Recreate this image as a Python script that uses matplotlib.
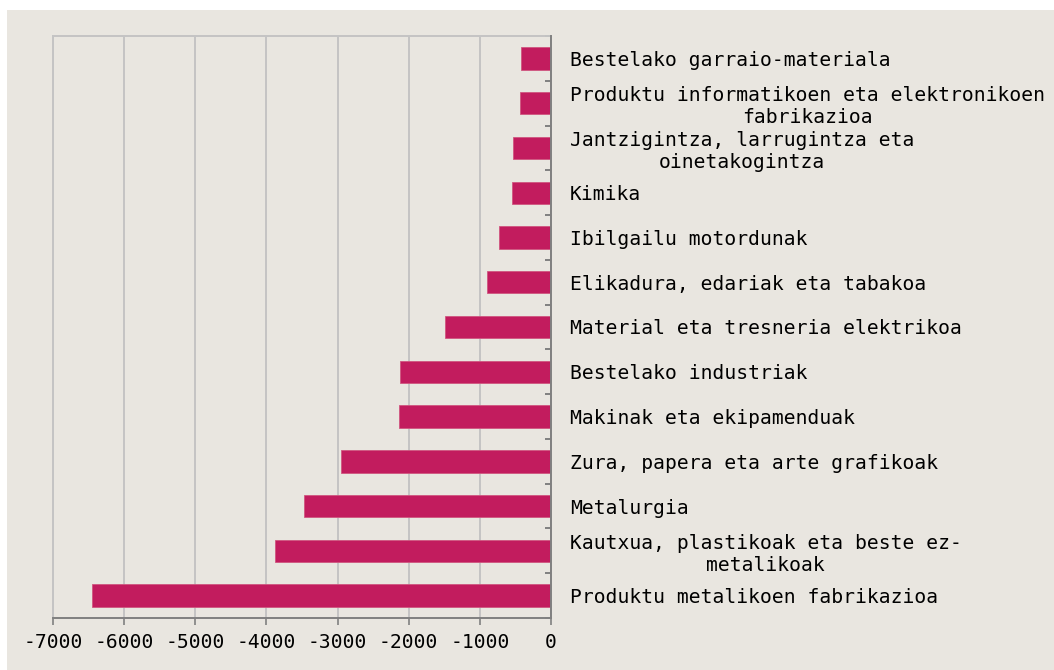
import matplotlib
matplotlib.use("Agg")
import matplotlib.pyplot as plt
from matplotlib.patches import Rectangle
import numpy as np

plt.rcParams['font.family'] = ['DejaVu Sans Mono', 'DejaVu Sans']
plt.rcParams['axes.unicode_minus'] = False

categories = [
    "Bestelako garraio-materiala",
    "Produktu informatikoen eta elektronikoen\nfabrikazioa",
    "Jantzigintza, larrugintza eta\noinetakogintza",
    "Kimika",
    "Ibilgailu motordunak",
    "Elikadura, edariak eta tabakoa",
    "Material eta tresneria elektrikoa",
    "Bestelako industriak",
    "Makinak eta ekipamenduak",
    "Zura, papera eta arte grafikoak",
    "Metalurgia",
    "Kautxua, plastikoak eta beste ez-\nmetalikoak",
    "Produktu metalikoen fabrikazioa",
]
values = [-425, -430, -535, -550, -730, -905, -1495, -2125, -2140, -2950, -3470, -3875, -6450]
xticks = [-7000, -6000, -5000, -4000, -3000, -2000, -1000, 0]

bg = "#E9E6E0"
bar_color = "#C21C5E"
fs = 14.1

fig = plt.figure(figsize=(10.54, 6.70), dpi=100, facecolor="white")
fig.patches.append(Rectangle((7/1054, 0), 1, 1 - 10/670, transform=fig.transFigure,
                             facecolor=bg, edgecolor="none", zorder=-10))
ax = fig.add_axes([53/1054, 1 - 618/670, (551-53)/1054, (618-36)/670])
ax.set_facecolor(bg)

n = len(categories)
y = np.arange(n)
ax.barh(y, values, height=0.5, color=bar_color, edgecolor="#D0567F", linewidth=0.6, zorder=3)

ax.set_xlim(-7000, 0)
ax.set_ylim(n - 0.5, -0.5)
ax.set_xticks(xticks)
ax.set_xticklabels([str(v) for v in xticks], fontsize=fs)
ax.xaxis.grid(True, color="#C4C4C4", linewidth=1.4, zorder=0)
ax.tick_params(axis='x', length=5, width=1.2, color="#808080", pad=6, direction='out')

# category labels on the right of the zero axis
ax.yaxis.tick_right()
ax.set_yticks(y)
ax.set_yticklabels(categories, fontsize=fs)
for lbl in ax.get_yticklabels():
    lbl.set_horizontalalignment('left')
    lbl.set_multialignment('center')
ax.tick_params(axis='y', which='major', length=0, pad=13.5)
ax.set_yticks(np.arange(n + 1) - 0.5, minor=True)
ax.tick_params(axis='y', which='minor', length=4, width=1.4, color="#808080", direction='in')

for s in ['left', 'top']:
    ax.spines[s].set_color("#C4C4C4")
    ax.spines[s].set_linewidth(1.4)
for s in ['right', 'bottom']:
    ax.spines[s].set_color("#808080")
    ax.spines[s].set_linewidth(1.4)
    ax.spines[s].set_zorder(4)

fig.savefig("out.png", dpi=100, facecolor="white")
